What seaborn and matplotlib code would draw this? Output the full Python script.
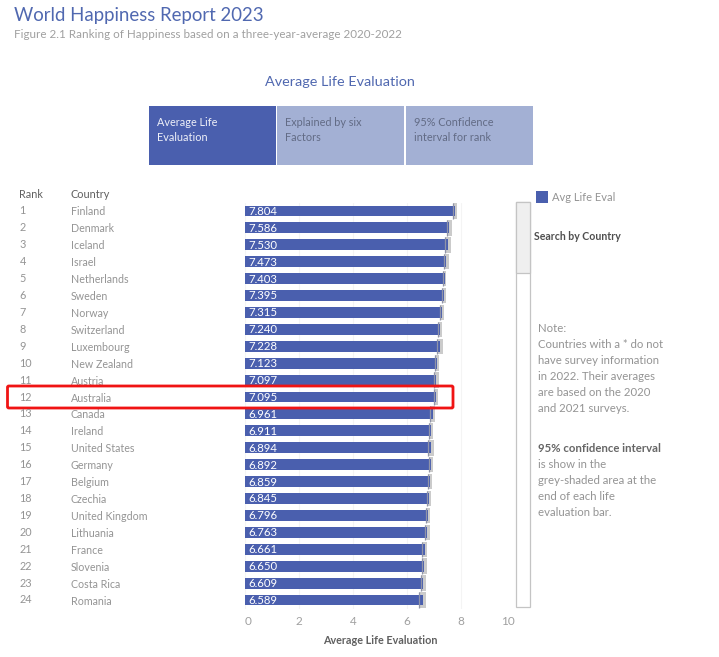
import matplotlib
matplotlib.use("Agg")
import matplotlib.pyplot as plt
from matplotlib.patches import Rectangle, FancyBboxPatch
import pandas as pd
import seaborn as sns

countries = ["Finland", "Denmark", "Iceland", "Israel", "Netherlands", "Sweden",
             "Norway", "Switzerland", "Luxembourg", "New Zealand", "Austria", "Australia",
             "Canada", "Ireland", "United States", "Germany", "Belgium", "Czechia",
             "United Kingdom", "Lithuania", "France", "Slovenia", "Costa Rica", "Romania"]
ranks = list(range(1, 25))
scores = [7.804, 7.586, 7.530, 7.473, 7.403, 7.395, 7.315, 7.240, 7.228, 7.123, 7.097, 7.095,
          6.961, 6.911, 6.894, 6.892, 6.859, 6.845, 6.796, 6.763, 6.661, 6.650, 6.609, 6.589]
ci_low = [7.73, 7.51, 7.43, 7.39, 7.35, 7.32, 7.23, 7.16, 7.11, 7.05, 7.02, 7.02,
          6.87, 6.84, 6.79, 6.81, 6.79, 6.77, 6.71, 6.67, 6.58, 6.56, 6.52, 6.47]
ci_high = [7.88, 7.67, 7.63, 7.56, 7.46, 7.47, 7.40, 7.32, 7.35, 7.20, 7.18, 7.17,
           7.05, 6.98, 7.00, 6.97, 6.93, 6.92, 6.88, 6.86, 6.74, 6.74, 6.70, 6.71]
xticks = [0, 2, 4, 6, 8, 10]
tab_labels = ["Average Life\nEvaluation", "Explained by six\nFactors", "95% Confidence\ninterval for rank"]
note_lines = ["Note:", "Countries with a * do not", "have survey information",
              "in 2022. Their averages", "are based on the 2020", "and 2021 surveys."]
ci_lines = ["is show in the", "grey-shaded area at the", "end of each life", "evaluation bar."]

W, H = 719, 657
BLUE = "#4a5fae"
LIGHT = "#a3b0d4"
GREY = "#949494"
DARK = "#606060"

sns.set_theme(style="white")
plt.rcParams["font.family"] = ["Lato", "DejaVu Sans"]

fig = plt.figure(figsize=(W / 100, H / 100), dpi=100, facecolor="white")
ax = fig.add_axes([245 / W, 1 - 608.5 / H, 269.5 / W, 406 / H])


def txt(x, y, s, **kw):
    kw.setdefault("va", "center")
    kw.setdefault("color", GREY)
    kw.setdefault("fontsize", 7.8)
    return fig.text(x / W, 1 - y / H, s, **kw)


def box(x0, y0, x1, y1, **kw):
    fig.add_artist(Rectangle((x0 / W, 1 - y1 / H), (x1 - x0) / W, (y1 - y0) / H,
                             transform=fig.transFigure, **kw))


df = pd.DataFrame({"country": countries, "score": scores})

# grey CI band sits behind the bar, no white seaborn edge
ax.barh(countries, [h - l for h, l in zip(ci_high, ci_low)], left=ci_low, height=0.92,
        color="#cbcbcb", edgecolor="none", linewidth=0, zorder=1)
sns.barplot(data=df, x="score", y="country", color=BLUE, saturation=1, width=0.64,
            orient="h", linewidth=0, edgecolor="none", ax=ax, zorder=2)
ax.vlines(ci_low, [i - 0.46 for i in range(24)], [i + 0.46 for i in range(24)],
          color="#8f93a8", lw=0.9, zorder=3)

for i, v in enumerate(scores):
    ax.annotate(f"{v:.3f}", (0, i), xytext=(2.2, -0.3), textcoords="offset points",
                va="center", color="white", fontsize=8.2, zorder=4)

ax.set_xlim(0, 10)
ax.set_ylim(23.5, -0.5)
ax.set_xticks(xticks)
ax.set_xlabel("")
ax.set_ylabel("")
ax.grid(axis="x", color="#f4f4f4", lw=0.8, zorder=0)
ax.axvline(0, color="#d8d8d8", lw=0.7, ls=":", zorder=0)
sns.despine(ax=ax, left=True, bottom=True, top=True, right=True)
ax.tick_params(axis="x", length=0, pad=5.5, labelsize=8.5, labelcolor="#a0a0a0")
labels = ax.get_xticklabels()
labels[0].set_ha("left")
labels[-1].set_ha("right")
ax.tick_params(axis="y", length=0, pad=125.3, labelsize=7.7, labelcolor=GREY)
for lab in ax.get_yticklabels():
    lab.set_ha("left")

# rank column
for i, r in enumerate(ranks):
    txt(19.5, 211 + i * 16.91, str(r))
txt(19.5, 195, "Rank", color=DARK)
txt(70.5, 195, "Country", color=DARK)

# headers
txt(14, 15.5, "World Happiness Report 2023", color="#5068b0", fontsize=13.4)
txt(14, 34, "Figure 2.1 Ranking of Happiness based on a three-year-average 2020-2022",
    color="#a0a0a0", fontsize=8.35)
txt(340, 81.5, "Average Life Evaluation", color="#5068b0", fontsize=10.4, ha="center")

# tab buttons
tab_x = [(149, 275.5), (277, 404), (405.5, 533)]
for (x0, x1), label, n in zip(tab_x, tab_labels, range(3)):
    box(x0, 106, x1, 164.5, facecolor=BLUE if n == 0 else LIGHT, edgecolor="none", lw=0)
    txt(x0 + 8, 130, label, color="#eef0f8" if n == 0 else "#626b85", fontsize=7.8,
        linespacing=1.45)

# legend, scroll bar, side notes
box(536, 191, 548, 203, facecolor=BLUE, edgecolor="none", lw=0)
txt(552, 197.5, "Avg Life Eval", color=GREY, fontsize=8)
box(515.5, 202, 529.5, 606.5, facecolor="white", edgecolor="#c4c4c4", lw=0.9)
box(515.5, 202, 529.5, 273, facecolor="#efefef", edgecolor="#c4c4c4", lw=0.9)
txt(533.5, 237, "Search by Country", color="#4f4f4f", fontsize=7.6, fontweight="bold")
for i, line in enumerate(note_lines):
    txt(538, 328 + i * 16.2, line, fontsize=8.2)
txt(538, 448, "95% confidence interval", color="#666666", fontsize=8.2, fontweight="bold")
for i, line in enumerate(ci_lines):
    txt(538, 464 + i * 16, line, fontsize=8.2)

txt(380, 641, "Average Life Evaluation", color=DARK, fontsize=7.75, ha="center", fontweight="bold")

# highlight for Australia
fig.add_artist(FancyBboxPatch((7.5 / W, 1 - 408 / H), 445.5 / W, 22 / H,
                              boxstyle="round,pad=0,rounding_size=0.002",
                              transform=fig.transFigure, facecolor="none",
                              edgecolor="#f01414", lw=2))

fig.savefig("out.png", dpi=100)
